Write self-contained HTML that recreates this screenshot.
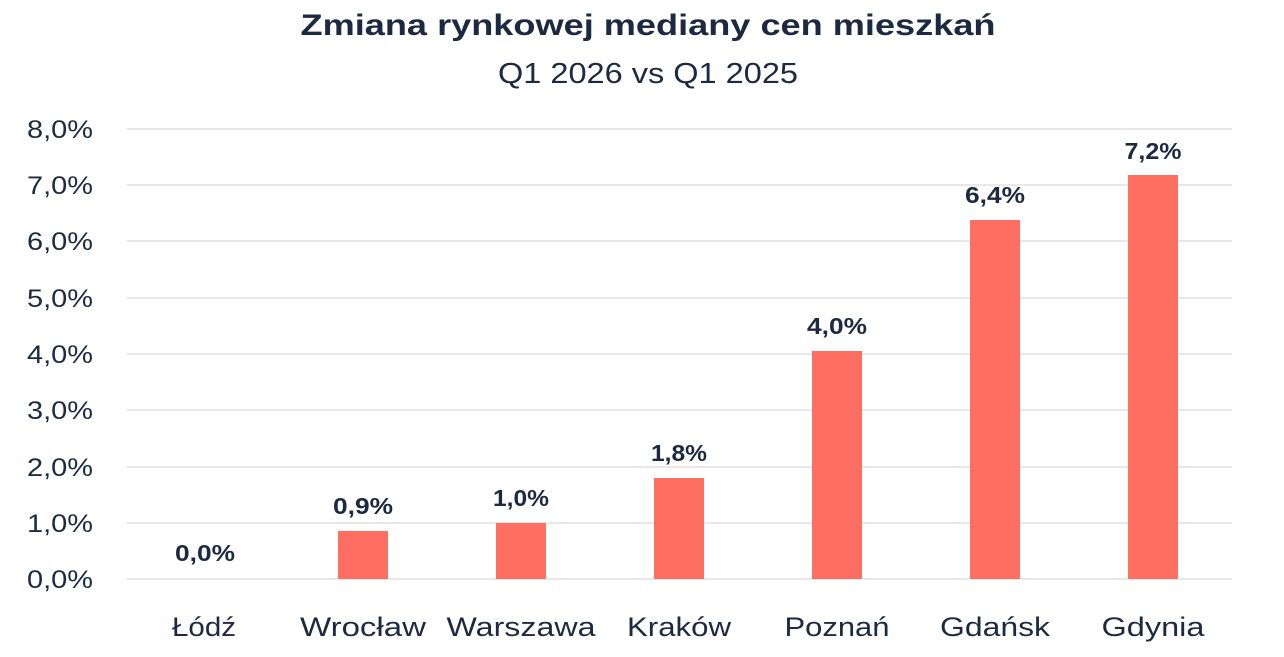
<!DOCTYPE html>
<html><head><meta charset="utf-8"><style>
body{margin:0;background:#fff;}
svg text{font-family:"Liberation Sans",sans-serif;fill:#1b2a41;}
</style></head><body>
<svg width="1284" height="652" viewBox="0 0 1284 652" xmlns="http://www.w3.org/2000/svg">
<text x="648" y="35" text-anchor="middle" font-size="30" font-weight="bold" textLength="695" lengthAdjust="spacingAndGlyphs">Zmiana rynkowej mediany cen mieszkań</text>
<text x="648" y="83" text-anchor="middle" font-size="29" textLength="300" lengthAdjust="spacingAndGlyphs">Q1 2026 vs Q1 2025</text>
<g stroke="#d9d9d9" stroke-width="1.3">
<line x1="127" x2="1232" y1="129" y2="129"/><line x1="127" x2="1232" y1="185" y2="185"/>
<line x1="127" x2="1232" y1="241" y2="241"/><line x1="127" x2="1232" y1="298" y2="298"/>
<line x1="127" x2="1232" y1="354" y2="354"/><line x1="127" x2="1232" y1="410" y2="410"/>
<line x1="127" x2="1232" y1="467" y2="467"/><line x1="127" x2="1232" y1="523" y2="523"/>
<line x1="127" x2="1232" y1="579" y2="579"/>
</g>
<g font-size="25" text-anchor="end">
<text x="93" y="138" textLength="66" lengthAdjust="spacingAndGlyphs">8,0%</text><text x="93" y="194" textLength="66" lengthAdjust="spacingAndGlyphs">7,0%</text><text x="93" y="250" textLength="66" lengthAdjust="spacingAndGlyphs">6,0%</text>
<text x="93" y="307" textLength="66" lengthAdjust="spacingAndGlyphs">5,0%</text><text x="93" y="363" textLength="66" lengthAdjust="spacingAndGlyphs">4,0%</text><text x="93" y="419" textLength="66" lengthAdjust="spacingAndGlyphs">3,0%</text>
<text x="93" y="476" textLength="66" lengthAdjust="spacingAndGlyphs">2,0%</text><text x="93" y="532" textLength="66" lengthAdjust="spacingAndGlyphs">1,0%</text><text x="93" y="588" textLength="66" lengthAdjust="spacingAndGlyphs">0,0%</text>
</g>
<g fill="#ff6f61">
<rect x="338" y="531" width="50" height="48"/><rect x="496" y="523" width="50" height="56"/>
<rect x="654" y="478" width="50" height="101"/><rect x="812" y="351" width="50" height="228"/>
<rect x="970" y="220" width="50" height="359"/><rect x="1128" y="175" width="50" height="404"/>
</g>
<g font-size="23" font-weight="bold" text-anchor="middle">
<text x="205" y="561" textLength="60" lengthAdjust="spacingAndGlyphs">0,0%</text><text x="363" y="514" textLength="60" lengthAdjust="spacingAndGlyphs">0,9%</text><text x="521" y="506" textLength="56" lengthAdjust="spacingAndGlyphs">1,0%</text>
<text x="679" y="461" textLength="56" lengthAdjust="spacingAndGlyphs">1,8%</text><text x="837" y="334" textLength="60" lengthAdjust="spacingAndGlyphs">4,0%</text><text x="995" y="203" textLength="60" lengthAdjust="spacingAndGlyphs">6,4%</text>
<text x="1153" y="159" textLength="57" lengthAdjust="spacingAndGlyphs">7,2%</text>
</g>
<g font-size="27" text-anchor="middle">
<text x="204" y="636" textLength="64" lengthAdjust="spacingAndGlyphs">Łódź</text><text x="363" y="636" textLength="126" lengthAdjust="spacingAndGlyphs">Wrocław</text><text x="521" y="636" textLength="149" lengthAdjust="spacingAndGlyphs">Warszawa</text>
<text x="679" y="636" textLength="104" lengthAdjust="spacingAndGlyphs">Kraków</text><text x="837" y="636" textLength="105" lengthAdjust="spacingAndGlyphs">Poznań</text><text x="995" y="636" textLength="110" lengthAdjust="spacingAndGlyphs">Gdańsk</text>
<text x="1153" y="636" textLength="103" lengthAdjust="spacingAndGlyphs">Gdynia</text>
</g>
</svg>
</body></html>
